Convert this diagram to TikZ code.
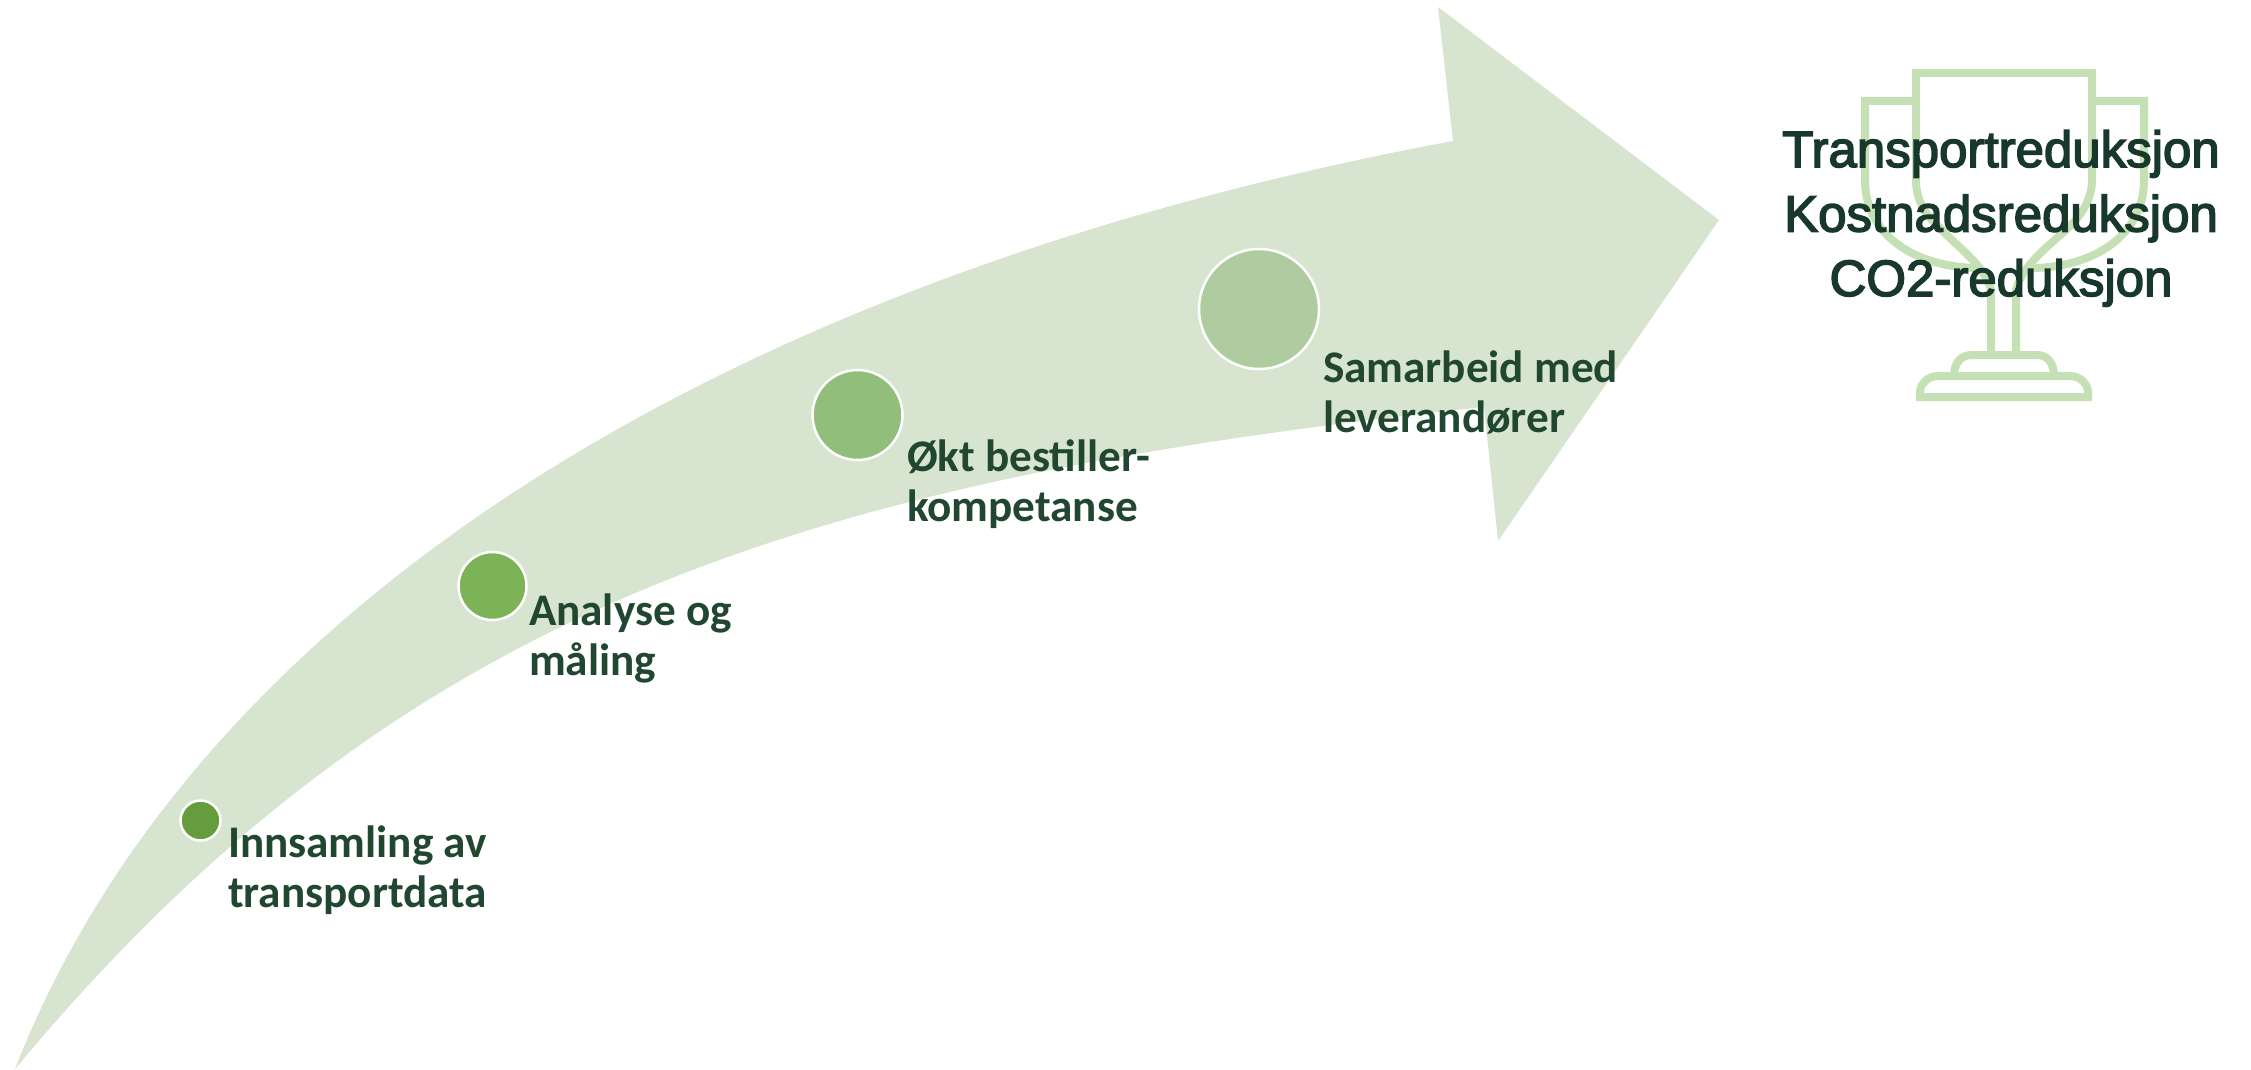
\documentclass[tikz,border=0pt]{standalone}
\usepackage{fontspec}
\setmainfont{Carlito}
\newfontfamily\goalfont[FakeBold=3]{Liberation Sans}
\definecolor{arrowgreen}{HTML}{D7E4CF}
\definecolor{trophygreen}{HTML}{C5E0B4}
\definecolor{labelgreen}{HTML}{214730}
\definecolor{goalgreen}{HTML}{17382A}
\definecolor{dotA}{HTML}{659C3E}
\definecolor{dotB}{HTML}{7CB356}
\definecolor{dotC}{HTML}{91BE7B}
\definecolor{dotD}{HTML}{AECCA0}
\tikzset{
  x=1pt,y=-1pt,
  dot/.style={circle,draw=white,line width=2.5pt,inner sep=0pt,outer sep=0pt},
  stagelabel/.style={anchor=base west,align=left,inner sep=0pt,outer sep=0pt,text=labelgreen,
    font=\fontsize{45.2}{49.5}\selectfont\bfseries},
  goal/.style={anchor=base,align=center,inner sep=0pt,text=goalgreen,
    font=\fontsize{51}{64.5}\selectfont\goalfont},
  cup/.style={draw=trophygreen,line width=8pt,line join=miter}
}
\begin{document}
\begin{tikzpicture}
\useasboundingbox (0,0) rectangle (2251,1070);
% sweeping arrow
\fill[arrowgreen] (15,1069)
  .. controls (190,620) and (705,280) .. (1453,141)
  -- (1438,7) -- (1719,220) -- (1498,541) -- (1484,407)
  .. controls (800,480) and (400,607) .. (15,1069) -- cycle;
% trophy
\draw[cup] (1916,101) -- (1865,101) -- (1865,180)
  .. controls (1865,235) and (1915,268) .. (1980,268);
\draw[cup] (2092,101) -- (2144,101) -- (2144,180)
  .. controls (2144,235) and (2094,268) .. (2030,268);
\draw[cup] (1991,355) -- (1991,290) .. controls (1985,265) and (1955,245) .. (1940,228)
  .. controls (1925,215) and (1916,200) .. (1916,180) -- (1916,73) -- (2092,73) -- (2092,180)
  .. controls (2092,200) and (2080,217) .. (2068,228) .. controls (2050,245) and (2022,265) .. (2016,290) -- (2016,355);
\draw[cup] (1954,376) .. controls (1954,364) and (1960,355) .. (1972,355) -- (2037,355) .. controls (2048,355) and (2054,364) .. (2054,376);
\draw[cup] (1920,397) -- (1920,392) .. controls (1920,384) and (1928,376) .. (1938,376) -- (2070,376) .. controls (2080,376) and (2088,384) .. (2088,392) -- (2088,397) -- cycle;
% stage dots
\node[dot,fill=dotA,minimum size=40pt] (d1) at (200.5,820.5) {};
\node[dot,fill=dotB,minimum size=68pt] (d2) at (492.5,586) {};
\node[dot,fill=dotC,minimum size=90pt] (d3) at (857.5,415) {};
\node[dot,fill=dotD,minimum size=120pt] (d4) at (1259,309) {};
% labels
\node[stagelabel] (l1) at (228,907) {Innsamling av\\transportdata};
\node[stagelabel] (l2) at (529,675) {Analyse og\\måling};
\node[stagelabel] (l3) at (907,521) {Økt bestiller-\\kompetanse};
\node[stagelabel] (l4) at (1323,432) {Samarbeid med\\leverandører};
\node[goal] (g) at (2001,296) {Transportreduksjon\\Kostnadsreduksjon\\CO2-reduksjon};
\end{tikzpicture}
\end{document}
